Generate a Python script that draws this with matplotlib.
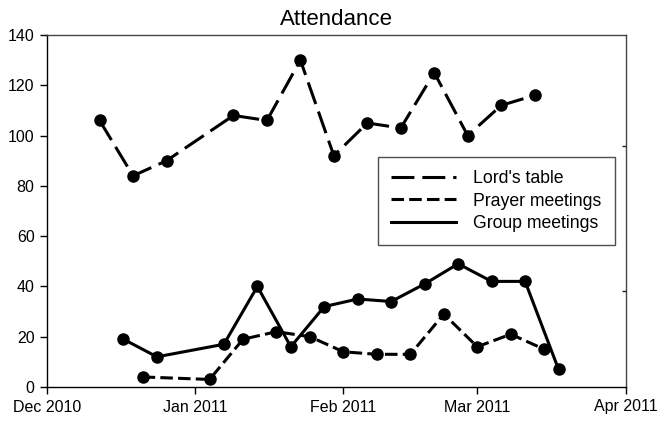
import matplotlib
matplotlib.use("Agg")
import matplotlib.pyplot as plt
import numpy as np
import datetime as dt

plt.rcParams['font.family'] = ['Liberation Sans', 'DejaVu Sans']

# ---- data ----
lords_dates = ["2010-12-12", "2010-12-19", "2010-12-26", "2011-01-09", "2011-01-16",
               "2011-01-23", "2011-01-30", "2011-02-06", "2011-02-13", "2011-02-20",
               "2011-02-27", "2011-03-06", "2011-03-13"]
lords_values = [106, 84, 90, 108, 106, 130, 92, 105, 103, 125, 100, 112, 116]

prayer_dates = ["2010-12-21", "2011-01-04", "2011-01-11", "2011-01-18", "2011-01-25",
                "2011-02-01", "2011-02-08", "2011-02-15", "2011-02-22", "2011-03-01",
                "2011-03-08", "2011-03-15"]
prayer_values = [4, 3, 19, 22, 20, 14, 13, 13, 29, 16, 21, 15]

group_dates = ["2010-12-17", "2010-12-24", "2011-01-07", "2011-01-14", "2011-01-21",
               "2011-01-28", "2011-02-04", "2011-02-11", "2011-02-18", "2011-02-25",
               "2011-03-04", "2011-03-11", "2011-03-18"]
group_values = [19, 12, 17, 40, 16, 32, 35, 34, 41, 49, 42, 42, 7]

tick_dates = ["2010-12-01", "2011-01-01", "2011-02-01", "2011-03-01", "2011-04-01"]
tick_labels = ["Dec 2010", "Jan 2011", "Feb 2011", "Mar 2011", "Apr 2011"]
series_names = ["Lord's table", "Prayer meetings", "Group meetings"]


def to_dates(lst):
    return [dt.datetime.strptime(s, "%Y-%m-%d") for s in lst]


fig = plt.figure(figsize=(6.59, 4.22), dpi=100)
ax = fig.add_axes([47 / 659, 1 - 387 / 422, (625.5 - 47) / 659, (387 - 35) / 422])

lw = 2.2
ms = 8
ax.plot(to_dates(lords_dates), lords_values, color='black', lw=lw,
        dashes=(7.5, 2.6), marker='o', ms=ms, label=series_names[0])
ax.plot(to_dates(prayer_dates), prayer_values, color='black', lw=lw,
        dashes=(4.1, 1.7), marker='o', ms=ms, label=series_names[1])
ax.plot(to_dates(group_dates), group_values, color='black', lw=lw,
        ls='-', marker='o', ms=ms, label=series_names[2])

tick_dt = to_dates(tick_dates)
ax.set_xlim(tick_dt[0], tick_dt[-1])
ax.set_ylim(0, 140)

ax.set_xticks(tick_dt)
ax.set_xticklabels(tick_labels)
ax.set_yticks(np.arange(0, 141, 20))

ax.tick_params(axis='both', direction='out', length=5, width=1, labelsize=11.5,
               colors='black', pad=4)

for side in ['left', 'bottom']:
    ax.spines[side].set_color('black')
    ax.spines[side].set_linewidth(1.0)
for side in ['top', 'right']:
    ax.spines[side].set_color('#444444')
    ax.spines[side].set_linewidth(1.0)

# tiny inward ticks on the right spine
ax2 = ax.twinx()
ax2.set_ylim(0, 140)
ax2.set_yticks([96, 38])
ax2.tick_params(axis='y', which='major', direction='in', length=3, width=1,
                left=False, right=True, labelright=False, labelleft=False,
                colors='#222222')
for side in ['left', 'right', 'top', 'bottom']:
    ax2.spines[side].set_visible(False)

ax.set_title("Attendance", fontsize=16, pad=7)

leg = ax.legend(handlelength=3.7, handletextpad=0.95, fontsize=12.7,
                loc='upper left', bbox_to_anchor=(378 / 659, 1 - 157 / 422),
                bbox_transform=fig.transFigure, borderaxespad=0,
                borderpad=0.75, labelspacing=0.3, frameon=True, fancybox=False)
for h in leg.get_lines():
    h.set_marker('')
leg.get_frame().set_edgecolor('#222222')
leg.get_frame().set_linewidth(1.0)

fig.savefig("out.png", dpi=100)
